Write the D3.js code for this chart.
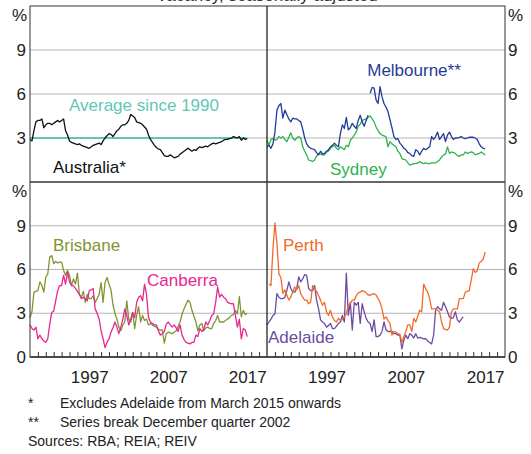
<!DOCTYPE html>
<html>
<head>
<meta charset="utf-8">
<script src="https://cdn.jsdelivr.net/npm/d3@7/dist/d3.min.js"></script>
<style>
  html, body { margin: 0; padding: 0; background: #fff; }
  svg { display: block; font-family: Arial, "Liberation Sans", Helvetica, sans-serif; }
</style>
</head>
<body>
<svg id="chart" width="531" height="454"></svg>
<script>
// Rental vacancy rates by city, quarterly, per cent
const titleText = "Vacancy, seasonally adjusted";
const yTicks = [3, 6, 9];
const xTickYears = d3.range(1991, 2020);
const xLabelYears = [1997, 2007, 2017];
const averageSince1990 = 3.0;

const australiaStart = 1990;
const australia = [
  2.9, 2.8, 3.5, 4.1,   4.2, 4.2, 4.3, 3.7,   3.9, 4.0, 4.0, 3.9,   4.0, 4.1, 4.2, 4.1,
  4.2, 4.3, 3.5, 3.2,   2.8, 2.7, 2.65, 2.6,  2.55, 2.6, 2.5, 2.45,  2.4, 2.35, 2.3, 2.4,
  2.5, 2.55, 2.6, 2.65, 2.55, 2.8, 3.0, 3.15, 3.3, 3.25, 3.1, 3.3,   3.5, 3.6, 3.8, 3.9,
  3.9, 4.0, 4.2, 4.6,   4.5, 4.4, 4.1, 4.05,  4.0, 3.9, 3.75, 3.6,   3.2, 2.9, 2.7, 2.5,
  2.35, 2.25, 2.2, 2.0, 1.8, 1.75, 1.75, 1.85, 1.75, 1.65, 1.7, 1.75, 1.9, 2.0, 2.1, 2.2,
  2.3, 2.2, 2.1, 2.2,   2.15, 2.3, 2.4, 2.35,  2.4, 2.45, 2.4, 2.5,   2.6, 2.65, 2.6, 2.65,
  2.7, 2.75, 2.85, 2.9, 2.9, 2.95, 3.0, 3.1,   3.05, 3.0, 3.1, 2.85,  3.0, 2.9, 2.95
];

// Melbourne series break in the December quarter 2002
const melbourneOldStart = 1990;
const melbourneOld = [
  2.4, 2.5, 2.3, 2.6,   3.4, 4.9, 5.2, 5.35,  4.35, 4.9, 4.6, 4.3,   4.1, 4.35, 4.3, 4.3,
  4.2, 4.1, 3.6, 3.0,   2.6, 2.4, 2.3, 2.25,  2.2, 2.0, 1.85, 2.1,   1.9, 1.95, 2.1, 2.2,
  2.4, 2.5, 2.65, 2.5,  2.4, 3.3, 3.9, 3.65,  4.4, 3.55, 3.7, 4.0,   3.8, 3.65, 4.2, 4.55,
  4.1, 3.8, 4.2, 4.55
];
const melbourneNewStart = 2003;
const melbourneNew = [
  6.05, 6.45, 6.4, 5.6, 5.35, 6.5, 5.8, 5.35,  5.1, 4.8, 4.25, 3.7,   3.1, 2.9, 2.95, 2.65,
  2.5, 2.3, 2.2, 2.0,   1.95, 1.8, 1.75, 2.2,  2.1, 1.85, 2.1, 2.3,   2.2, 2.3, 2.4, 3.1,
  2.9, 3.1, 3.4, 2.9,   3.1, 3.3, 2.75, 3.2,   3.4, 3.1, 2.9, 3.0,    3.0, 3.05, 3.1, 3.0,
  2.95, 3.0, 3.05, 3.05, 3.05, 3.0, 2.9, 2.6,  2.4, 2.3, 2.25
];

const sydneyStart = 1990;
const sydney = [
  2.85, 2.5, 2.9, 2.95, 2.85, 2.9, 3.1, 3.0,   3.1, 2.9, 2.75, 3.05,  3.35, 3.0, 2.85, 3.0,
  3.1, 3.0, 2.4, 2.1,   1.85, 1.5, 1.45, 1.4,  1.5, 1.75, 1.95, 1.9,  1.85, 1.85, 2.05, 2.1,
  2.3, 2.4, 2.5, 2.3,   2.2, 2.4, 2.3, 2.2,    2.5, 2.4, 2.85, 3.0,   3.2, 3.4, 3.8, 3.95,
  4.2, 4.25, 4.3, 4.4,  4.5, 4.3, 4.1, 3.75,   3.5, 3.3, 3.2, 3.15,   3.1, 2.4, 2.75, 2.6,
  2.5, 2.4, 2.1, 1.95,  1.6, 1.55, 1.5, 1.3,   1.15, 1.2, 1.25, 1.25, 1.3, 1.4, 1.3, 1.25,
  1.3, 1.25, 1.25, 1.3, 1.3, 1.3, 1.4, 1.5,    1.7, 1.85, 1.9, 2.4,   1.95, 2.05, 2.0, 1.95,
  1.8, 1.75, 1.85, 1.85, 2.05, 1.95, 2.0, 2.05, 2.0, 1.85, 1.9, 1.95, 2.05, 1.95, 1.85
];

const brisbaneStart = 1990;
const brisbane = [
  2.7, 3.1, 4.45, 4.5,  4.55, 5.15, 4.9, 4.45,  5.5, 5.7, 6.85, 6.95,  6.4, 6.55, 6.45, 6.5,
  6.5, 5.95, 5.6, 5.95, 5.6, 4.9, 5.35, 5.0,    5.75, 4.3, 4.1, 4.5,   3.75, 4.3, 4.0, 4.0,
  4.2, 3.75, 4.0, 4.3,  5.1, 3.75, 5.1, 5.45,   5.0, 4.6, 3.6, 3.0,    2.6, 2.05, 1.8, 2.2,
  2.4, 3.85, 2.6, 2.4,  3.05, 1.95, 2.85, 3.45, 2.4, 2.85, 2.5, 2.6,   2.2, 2.3, 2.2, 2.1,
  2.05, 1.9, 1.85, 1.85, 0.95, 1.6, 1.7, 1.65,  1.6, 1.7, 1.8, 2.1,    2.4, 2.95, 3.3, 3.6,
  3.9, 3.75, 3.2, 2.8,  2.4, 1.8, 2.2, 2.3,     1.8, 2.0, 2.05, 1.95,  1.95, 2.3, 2.5, 2.85,
  2.4, 2.4, 2.4, 2.5,   2.6, 2.7, 2.85, 2.9,    3.2, 2.95, 4.15, 2.75, 3.2, 2.9, 3.0
];

const canberraStart = 1990;
const canberra = [
  2.2, 1.95, 1.85, 2.05, 1.25, 1.5, 1.25, 1.1,  1.0, 1.25, 2.25, 3.05,  3.15, 3.85, 4.55, 4.9,
  4.9, 5.6, 5.0, 5.8,   5.15, 4.9, 4.9, 4.7,    4.5, 4.3, 4.0, 4.1,    4.0, 3.85, 4.55, 4.6,
  4.7, 3.3, 3.0, 2.6,   1.8, 1.25, 0.65, 1.0,   1.25, 1.7, 2.0, 2.4,   2.05, 1.6, 2.05, 2.6,
  3.3, 2.85, 2.2, 2.6,  3.05, 2.7, 3.75, 4.1,   4.2, 3.85, 5.0, 4.3,   2.7, 2.4, 2.3, 2.2,
  2.2, 1.8, 1.5, 1.6,   1.75, 2.25, 2.4, 2.2,   2.05, 2.2, 2.0, 1.75,  2.2, 1.5, 1.2, 1.0,
  0.95, 0.9, 1.0, 1.0,  1.5, 1.4, 1.95, 1.75,   1.9, 2.4, 2.2, 2.5,    2.85, 2.95, 3.75, 4.8,
  4.1, 4.3, 4.1, 4.0,   3.75, 3.7, 3.65, 3.65,  2.85, 2.05, 2.6, 1.25, 1.95, 1.85, 1.4
];

const perthStart = 1990.25;
const perth = [
  5.0, 4.9, 7.4,
  9.2, 7.8, 5.7, 5.45,  4.35, 4.6, 4.25, 3.9,   4.1, 4.45, 4.8, 4.6,   4.9, 4.35, 4.1, 3.9,
  3.9, 3.65, 3.75, 4.9, 4.7, 4.5, 4.2, 3.9,     3.55, 3.75, 3.1, 2.85, 3.2, 2.75, 2.5, 2.4,
  2.65, 2.5, 2.6, 2.75, 2.95, 3.55, 3.65, 3.9,  3.9, 4.2, 4.4, 4.45,   4.55, 4.5, 4.4, 4.25,
  4.25, 4.3, 4.35, 4.25, 4.0, 3.75, 3.3, 2.6,   2.75, 2.5, 2.3, 1.5,   1.75, 1.7, 1.6, 1.55,
  1.0, 1.4, 1.75, 2.2,  2.2, 1.75, 2.65, 2.4,   2.8, 3.2, 3.1, 5.0,    4.7, 4.45, 4.0, 3.3,
  3.3, 3.3, 3.2, 3.1,   2.4, 1.95, 1.9, 1.85,   2.05, 3.1, 3.3, 3.3,   3.3, 4.0, 4.0, 4.0,
  4.45, 4.5, 4.55, 5.3, 6.05, 5.8, 5.9, 6.45,   6.55, 6.7, 7.2
];

const adelaideStart = 1990;
const adelaide = [
  2.2, 2.4, 2.6, 2.85,  2.95, 4.35, 4.1, 4.0,   4.0, 4.1, 4.55, 5.15,  4.7, 4.45, 4.45, 4.7,
  5.5, 5.15, 5.35, 5.65, 5.6, 4.7, 4.55, 4.55,  4.9, 3.9, 3.3, 2.55,   2.4, 2.3, 2.05, 2.15,
  2.3, 1.95, 1.95, 2.1, 2.3, 2.4, 2.85, 2.4,    5.75, 2.85, 3.75, 1.85, 3.75, 3.55, 3.75, 2.3,
  3.65, 3.1, 2.65, 2.4, 2.3, 1.75, 2.55, 1.4,   1.4, 1.5, 1.75, 2.4,   1.85, 1.75, 1.75, 1.75,
  1.6, 1.6, 1.5, 1.5,   0.55, 1.15, 1.5, 1.25,  1.6, 1.5, 1.3, 1.6,    1.3, 1.35, 1.3, 1.25,
  1.25, 1.1, 1.0, 0.9,  1.5, 3.2, 3.45, 3.3,    3.2, 3.75, 3.45, 3.1,  2.75, 2.65, 2.7, 3.1,
  2.55, 2.4, 2.6, 2.75
];

const colors = {
  australia: "#111111",
  average: "#5fc7b6",
  melbourne: "#1f3c98",
  sydney: "#2fb34e",
  brisbane: "#7f9632",
  canberra: "#e8278f",
  perth: "#f26a2a",
  adelaide: "#6b4ba3"
};

// Quarterly series -> [year, value] points
const toPoints = (start, values) => values.map((v, i) => [start + i * 0.25, v]);

const svg = d3.select("#chart");
const fontSize = 17;

// Panel geometry
const left = 30, mid = 267, right = 505;
const topPanel = { top: 6, bottom: 182 };
const bottomPanel = { top: 182, bottom: 357 };

const xLeft = d3.scaleLinear().domain([1990, 2020]).range([left, mid]);
const xRight = d3.scaleLinear().domain([1990, 2020]).range([mid, right]);
const yTop = d3.scaleLinear().domain([0, 12]).range([topPanel.bottom, topPanel.top]);
const yBottom = d3.scaleLinear().domain([0, 12]).range([bottomPanel.bottom, bottomPanel.top]);

// Clipped chart title at the very top
svg.append("text")
  .attr("x", 267).attr("y", 1)
  .attr("text-anchor", "middle")
  .attr("font-size", fontSize)
  .attr("fill", "#333")
  .text(titleText);

// Horizontal gridlines
function grid(y, x0, x1) {
  svg.append("g")
    .selectAll("line")
    .data(yTicks)
    .join("line")
    .attr("x1", x0).attr("x2", x1)
    .attr("y1", d => y(d)).attr("y2", d => y(d))
    .attr("stroke", "#b5b5b5")
    .attr("stroke-width", 1);
}
grid(yTop, left, right);
grid(yBottom, left, right);

// Line drawing helper
function drawLine(points, x, y, color, width = 1.3) {
  const line = d3.line().x(d => x(d[0])).y(d => y(d[1]));
  svg.append("path")
    .datum(points)
    .attr("d", line)
    .attr("fill", "none")
    .attr("stroke", color)
    .attr("stroke-width", width)
    .attr("stroke-linejoin", "round");
}

// Top-left: Australia and long-run average
const ausPoints = toPoints(australiaStart, australia);
drawLine([[1990, averageSince1990], [ausPoints[ausPoints.length - 1][0], averageSince1990]],
  xLeft, yTop, colors.average, 2);
drawLine(ausPoints, xLeft, yTop, colors.australia);

// Top-right: Sydney and Melbourne
drawLine(toPoints(sydneyStart, sydney), xRight, yTop, colors.sydney);
drawLine(toPoints(melbourneOldStart, melbourneOld), xRight, yTop, colors.melbourne);
drawLine(toPoints(melbourneNewStart, melbourneNew), xRight, yTop, colors.melbourne);

// Bottom-left: Brisbane and Canberra
drawLine(toPoints(brisbaneStart, brisbane), xLeft, yBottom, colors.brisbane);
drawLine(toPoints(canberraStart, canberra), xLeft, yBottom, colors.canberra);

// Bottom-right: Adelaide and Perth
drawLine(toPoints(adelaideStart, adelaide), xRight, yBottom, colors.adelaide);
drawLine(toPoints(perthStart, perth), xRight, yBottom, colors.perth);

// Panel frames
const frame = svg.append("g").attr("fill", "none").attr("stroke", "#333");
frame.append("rect")
  .attr("x", left).attr("y", topPanel.top)
  .attr("width", right - left).attr("height", bottomPanel.bottom - topPanel.top)
  .attr("stroke-width", 1);
frame.append("line")
  .attr("x1", mid).attr("x2", mid)
  .attr("y1", topPanel.top).attr("y2", bottomPanel.bottom)
  .attr("stroke", "#111").attr("stroke-width", 1.2);
frame.append("line")
  .attr("x1", left).attr("x2", right)
  .attr("y1", topPanel.bottom).attr("y2", topPanel.bottom)
  .attr("stroke-width", 1.5);
frame.append("line")
  .attr("x1", left).attr("x2", right)
  .attr("y1", bottomPanel.bottom).attr("y2", bottomPanel.bottom)
  .attr("stroke-width", 1.3);

// Year ticks (inward) and labels centred on each year
[xLeft, xRight].forEach(x => {
  const ticks = svg.append("g")
    .attr("transform", `translate(0,${bottomPanel.bottom})`)
    .call(d3.axisBottom(x).tickValues(xTickYears).tickSizeInner(-5).tickSizeOuter(0).tickFormat(""));
  ticks.select(".domain").remove();
  ticks.selectAll("line").attr("stroke", "#333");

  const labels = svg.append("g")
    .attr("transform", `translate(0,${bottomPanel.bottom})`)
    .call(d3.axisBottom(x).tickValues(xLabelYears.map(y => y + 0.5))
      .tickSize(0).tickPadding(14).tickFormat(d => Math.floor(d)));
  labels.select(".domain").remove();
  labels.selectAll("text")
    .attr("font-size", fontSize)
    .attr("font-family", "Arial, 'Liberation Sans', sans-serif")
    .attr("fill", "#222");
});

// Value axes on both sides of both panels
function valueAxis(y, isBottom) {
  const vals = isBottom ? [0, ...yTicks] : yTicks;
  const leftAxis = svg.append("g")
    .attr("transform", `translate(${left},0)`)
    .call(d3.axisLeft(y).tickValues(vals).tickSize(0).tickPadding(4));
  const rightAxis = svg.append("g")
    .attr("transform", `translate(${right},0)`)
    .call(d3.axisRight(y).tickValues(vals).tickSize(0).tickPadding(3));
  [leftAxis, rightAxis].forEach(g => {
    g.select(".domain").remove();
    g.selectAll("text")
      .attr("font-size", fontSize)
      .attr("font-family", "Arial, 'Liberation Sans', sans-serif")
      .attr("fill", "#222");
  });
  const pctY = y.range()[1] + 9;
  svg.append("text").attr("x", left - 3).attr("y", pctY).attr("dy", "0.35em")
    .attr("text-anchor", "end").attr("font-size", fontSize).attr("fill", "#222").text("%");
  svg.append("text").attr("x", right + 3).attr("y", pctY).attr("dy", "0.35em")
    .attr("text-anchor", "start").attr("font-size", fontSize).attr("fill", "#222").text("%");
}
valueAxis(yTop, false);
valueAxis(yBottom, true);

// Series labels
const seriesLabels = [
  { text: "Average since 1990", x: 144, y: 111, anchor: "middle", color: colors.average },
  { text: "Australia*", x: 53, y: 173, anchor: "start", color: colors.australia },
  { text: "Melbourne**", x: 414, y: 76, anchor: "middle", color: colors.melbourne },
  { text: "Sydney", x: 330, y: 175, anchor: "start", color: colors.sydney },
  { text: "Brisbane", x: 53, y: 251, anchor: "start", color: colors.brisbane },
  { text: "Canberra", x: 147, y: 286, anchor: "start", color: colors.canberra },
  { text: "Perth", x: 283, y: 251, anchor: "start", color: colors.perth },
  { text: "Adelaide", x: 268, y: 343, anchor: "start", color: colors.adelaide }
];
svg.append("g")
  .selectAll("text")
  .data(seriesLabels)
  .join("text")
  .attr("x", d => d.x).attr("y", d => d.y)
  .attr("text-anchor", d => d.anchor)
  .attr("font-size", fontSize)
  .attr("fill", d => d.color)
  .text(d => d.text);

// Notes and sources
const notes = [
  { mark: "*", text: "Excludes Adelaide from March 2015 onwards", y: 408 },
  { mark: "**", text: "Series break December quarter 2002", y: 427 }
];
const notesG = svg.append("g").attr("font-size", 14).attr("fill", "#222");
notes.forEach(n => {
  notesG.append("text").attr("x", 28).attr("y", n.y).text(n.mark);
  notesG.append("text").attr("x", 60).attr("y", n.y).text(n.text);
});
notesG.append("text").attr("x", 28).attr("y", 446).text("Sources: RBA; REIA; REIV");
</script>
</body>
</html>
